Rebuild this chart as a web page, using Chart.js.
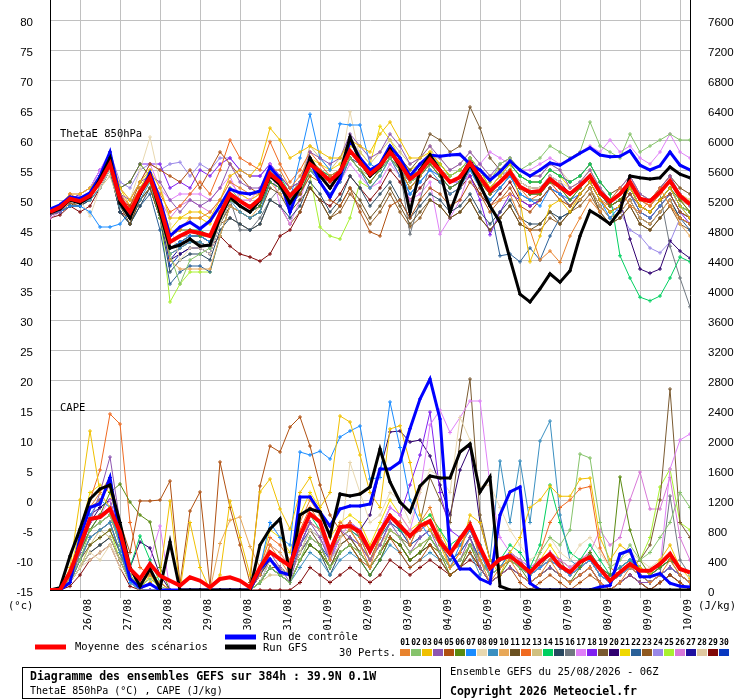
<!DOCTYPE html>
<html>
<head>
<meta charset="utf-8">
<script src="https://cdn.jsdelivr.net/npm/chart.js@4.4.1/dist/chart.umd.min.js"></script>
<style>
html, body { margin: 0; padding: 0; background: #fff; }
#wrap { width: 740px; height: 700px; }
</style>
</head>
<body>
<div id="wrap"><canvas id="chart" width="740" height="700"></canvas></div>
<script>
// 65 steps of 6h from 25/08 06Z, a day label sits on each 00Z step
const dayLabels = ['26/08', '27/08', '28/08', '29/08', '30/08', '31/08', '01/09', '02/09',
    '03/09', '04/09', '05/09', '06/09', '07/09', '08/09', '09/09', '10/09'];
const thetaTicks = [-15, -10, -5, 0, 5, 10, 15, 20, 25, 30, 35, 40, 45, 50, 55, 60, 65, 70, 75, 80];
const capeTicks = [0, 400, 800, 1200, 1600, 2000, 2400, 2800, 3200, 3600, 4000, 4400, 4800,
    5200, 5600, 6000, 6400, 6800, 7200, 7600];

const pertColors = ['#e8832e', '#86c36b', '#f0c000', '#8e56b0', '#b05010', '#5a8a10', '#1a8cff', '#e8d8b0',
    '#3a8fc0', '#e8a858', '#6a5020', '#f06a20', '#d0c080', '#00d060', '#284860', '#707880',
    '#e080f8', '#8020f0', '#7a5a30', '#300070', '#f0d800', '#2a6098', '#905a20', '#9a88e8',
    '#a8f030', '#d878d8', '#2010a0', '#e0c8a0', '#800808', '#0838c0'];

// ThetaE 850hPa (°C)
const thetaMean = [48.0, 48.8, 50.2, 49.8, 50.7, 53.0, 56.0, 50.2, 48.0, 51.3, 53.8, 49.0, 43.0,
    44.0, 44.8, 44.5, 44.0, 47.7, 51.0, 49.8, 48.8, 50.2, 54.4, 53.0, 50.7, 52.4,
    56.0, 54.7, 53.2, 54.7, 58.2, 56.3, 54.3, 55.7, 58.0, 56.0, 53.5, 54.7, 56.8,
    54.9, 53.0, 53.8, 56.2, 53.8, 51.5, 53.0, 54.7, 52.2, 51.3, 51.5, 53.5, 52.2,
    51.0, 52.4, 54.0, 51.3, 49.7, 51.0, 53.0, 50.2, 49.8, 51.3, 53.2, 50.7, 49.3];
const thetaCtrl = [48.5, 49.2, 50.5, 50.3, 51.2, 54.0, 58.0, 50.5, 47.5, 51.0, 54.5, 50.0, 44.0,
    45.5, 46.3, 45.2, 46.5, 49.0, 51.8, 51.2, 51.0, 51.5, 55.5, 53.5, 48.0, 52.5,
    56.5, 53.0, 50.5, 53.5, 60.0, 57.0, 55.0, 56.0, 59.0, 57.0, 54.0, 56.0, 57.5,
    57.3, 57.5, 57.6, 56.0, 55.0, 53.3, 54.7, 56.5, 55.0, 54.0, 55.0, 56.2, 55.8,
    56.8, 57.8, 58.7, 57.5, 57.2, 57.3, 58.2, 55.8, 55.0, 55.7, 58.0, 55.8, 55.0];
const thetaGfs = [47.8, 48.5, 50.0, 49.5, 50.5, 53.5, 57.0, 49.5, 47.0, 51.0, 54.0, 48.0, 42.0,
    42.5, 43.5, 42.3, 42.5, 47.0, 50.5, 49.0, 48.0, 50.0, 54.0, 52.5, 49.5, 52.0,
    57.0, 54.0, 52.0, 54.5, 60.5, 56.5, 54.0, 55.5, 58.5, 55.5, 48.0, 55.0, 57.5,
    55.0, 48.0, 52.5, 56.0, 52.5, 49.0, 46.3, 40.2, 34.3, 33.0, 35.2, 37.7, 36.3,
    38.2, 44.0, 48.2, 47.2, 46.0, 48.2, 54.0, 53.7, 53.5, 53.7, 55.5, 54.3, 53.7];

const thetaPerts = [
    [48, 49, 51, 50, 51, 54, 57, 51, 48, 52, 54, 50, 44, 45, 47, 47, 48, 50, 53, 52, 51, 51, 55, 55, 52, 54,
     57, 55, 53, 55, 58, 56, 54, 56, 58, 55, 52, 54, 57, 55, 53, 54, 56, 52, 49, 50, 51, 47, 45, 40, 41.5, 39.6,
     44, 47, 50, 48, 50, 52, 49, 48, 50, 52, 49, 47, 46],
    [48, 49, 50, 50, 51, 53, 57, 51, 48, 51, 53, 47, 41, 36, 40, 41, 42, 47, 52, 50, 49, 50, 55, 53, 50, 52,
     55, 54, 53, 54, 57, 55, 54, 55, 57, 55, 53, 54, 57, 55, 54, 55, 57, 55, 53, 56, 57, 55, 56, 57, 59, 58,
     57, 58, 63, 59, 58, 57, 61, 58, 59, 60, 61, 60, 60],
    [48, 49, 51, 51, 52, 54, 58, 52, 50, 53, 55, 52, 47, 47, 48, 48, 47, 50, 54, 55, 54, 56, 62, 60, 57, 58,
     59, 58, 57, 57, 60, 59, 58, 61, 63, 60, 57, 57, 58, 56, 54, 55, 57, 55, 52, 54, 56, 50, 39.7, 44, 49, 50,
     48, 51, 53, 50, 48, 49, 52, 49, 48, 50, 52, 49, 47],
    [47.5, 48, 50, 50, 51, 53, 57, 51, 50, 53, 54, 53, 50, 48, 50, 49, 50, 52, 56, 53, 52, 52, 55, 54, 52, 53,
     58, 57, 56, 57, 61, 59, 57, 58, 61, 59, 56, 57, 59, 57, 55, 56, 58, 56, 54, 56, 57, 55, 54, 54, 56, 55,
     52, 53, 55, 52, 50, 52, 54, 51, 50, 52, 54, 51, 49],
    [48, 49, 50, 50, 51, 53, 56, 50, 49, 53, 56, 55, 54, 53, 55, 52, 55, 58, 56, 54, 52, 51, 54, 53, 50, 51,
     54, 53, 50, 49, 52, 48, 44.7, 44, 49, 50, 47, 50, 52, 51, 49, 50, 53, 51, 48, 50, 52, 49, 48, 50, 52, 50,
     49, 51, 53, 50, 48, 49, 51, 49, 48, 50, 51, 48, 47],
    [48, 48.5, 50, 50, 51, 53, 57, 52, 53, 56, 54, 49, 44, 45, 45, 44, 44, 47, 50, 49, 48, 49, 53, 52, 50, 51,
     55, 54, 52, 54, 57, 55, 53, 55, 57, 55, 52, 54, 56, 54, 52, 53, 56, 53, 51, 53, 55, 52, 51, 51, 53, 52,
     50, 52, 54, 51, 49, 50, 52, 49, 48, 50, 52, 50, 48],
    [48, 48, 49, 49, 48, 45.5, 45.5, 46, 48, 51, 53, 48, 42, 43, 44, 44, 43, 47, 50, 49, 48, 49, 53, 52, 50, 57,
     64.3, 57, 55, 62.7, 62.5, 62.5, 56, 55, 57, 55, 51, 53, 55, 54, 52, 53, 55, 52, 50, 52, 54, 51, 50, 49, 52, 51,
     50, 51, 53, 50, 47, 49, 52, 49, 48, 50, 52, 49, 47],
    [48, 49, 51, 50, 47.3, 52, 55, 50, 50, 55, 60.5, 53, 46, 40, 42, 42, 41, 46, 50, 49, 48, 50, 54, 52, 50, 52,
     56, 55, 53, 55, 64.7, 57, 55, 56, 58, 56, 53, 54, 56, 55, 53, 54, 56, 54, 52, 54, 55, 53, 52, 52, 54, 53,
     52, 53, 55, 52, 50, 52, 54, 51, 50, 51, 53, 51, 50],
    [48, 48.5, 50, 49.5, 50, 52, 55, 49, 47, 50, 53, 48, 41, 42, 43, 43, 42, 46, 50, 48, 47, 48, 53, 52, 49, 51,
     55, 53, 51, 53, 57, 55, 52, 54, 57, 54, 51, 53, 55, 53, 51, 52, 55, 52, 50, 52, 54, 51, 50, 50, 52, 51,
     49, 51, 53, 50, 48, 49, 51, 48, 47, 49, 51, 48, 47],
    [48, 49, 50, 50, 51, 53, 56, 50, 48, 51, 53, 48, 40, 38.5, 38.5, 38.5, 38.5, 44, 49, 48, 47, 49, 53, 51, 49, 51,
     55, 54, 52, 54, 57, 55, 53, 55, 57, 55, 52, 54, 56, 54, 52, 53, 55, 52, 50, 52, 54, 51, 50, 50, 52, 50,
     49, 50, 52, 49, 47, 48, 50, 47, 46, 48, 50, 46, 44],
    [47.5, 48, 49, 50, 51, 54, 57, 49, 46, 50, 52, 47, 42, 43, 44, 44, 43, 46, 49, 48, 47, 48, 52, 51, 48, 50,
     52, 50, 47, 49, 52, 50, 47, 49, 52, 49, 46, 48, 50, 49, 47, 48, 50, 47, 45, 47, 49, 46, 45, 46, 48, 46,
     48, 50, 52, 48, 46, 47, 49, 46, 45, 47, 49, 47, 46],
    [48, 49, 50, 50, 51, 53, 57, 51, 49, 52, 54, 51, 48, 49, 51, 53, 51, 55, 60, 57, 56, 55, 59.7, 56, 53, 55,
     58, 56, 54, 55, 58, 56, 54, 56, 58, 56, 53, 55, 57, 55, 53, 54, 56, 53, 51, 53, 54, 52, 50, 51, 53, 51,
     49, 51, 53, 50, 49, 50, 52, 50, 49, 51, 53, 50, 48],
    [48, 49, 50, 50, 50, 52, 54, 49, 47, 50, 52, 47, 41, 42, 43, 43, 42, 46, 50, 49, 48, 50, 54, 53, 51, 53,
     59, 57, 55, 57, 60, 58, 56, 58, 60, 58, 56, 57, 59, 55, 53, 54, 56, 54, 52, 53, 55, 53, 52, 52, 53, 52,
     51, 52, 54, 51, 50, 51, 53, 50, 49, 51, 53, 50, 49],
    [48, 49, 50.5, 50, 51, 53, 56, 50, 48, 52, 54, 49, 43, 44, 45, 45, 44, 48, 51, 50, 49, 50, 55, 54, 51, 53,
     57, 55, 54, 55, 58, 56, 55, 56, 59, 57, 54, 55, 57, 56, 54, 55, 57, 55, 52, 54, 56, 54, 53, 53, 55, 54,
     53, 54, 56, 53, 51, 40.7, 37, 33.8, 33.2, 34, 37, 40.5, 39.7],
    [48, 48, 49, 49, 50, 52, 55, 48, 46, 49, 52, 47, 38, 40, 41, 41, 40, 45, 47, 46, 45, 46, 50, 49, 47, 49,
     53, 51, 48, 50, 54, 52, 49, 51, 53, 50, 47, 49, 51, 50, 48, 49, 51, 48, 46, 48, 50, 47, 46, 46, 48, 47,
     48, 50, 52, 49, 47, 48, 50, 47, 46, 48, 50, 47, 46],
    [48, 49, 50, 50, 51, 53, 56, 50, 48, 51, 53, 49, 43, 44, 44, 44, 43, 47, 50, 45, 45, 47, 50, 52, 50, 52,
     56, 54, 53, 54, 57, 56, 54, 55, 57, 55, 44.3, 50, 56, 54, 52, 53, 55, 53, 51, 52, 54, 52, 51, 51, 53, 52,
     51, 52, 54, 52, 50, 51, 53, 50, 49, 51, 42.3, 37, 32.2],
    [48, 49, 51, 51, 52, 55, 58, 52, 50, 53, 56, 52, 50, 51, 51, 51, 50, 52, 54, 50, 50, 52, 56, 49, 46, 50,
     55, 54, 52, 53, 56, 54, 52, 53, 56, 54, 50, 51, 53, 44.3, 47, 50, 55, 56, 58, 57, 56, 55, 55, 56, 57, 56,
     57, 58, 59, 58, 60, 58, 59, 57, 56, 58, 61, 58, 57],
    [48, 49, 50, 51, 52, 55, 57, 52, 53, 56, 56, 56, 52, 53, 52, 55, 54, 56, 57, 55, 54, 54, 56, 54, 52, 53,
     56, 55, 53, 55, 58, 56, 54, 56, 58, 56, 53, 55, 57, 55, 53, 53, 54, 50, 44.2, 48, 51, 50, 49, 50, 52, 51,
     49, 51, 53, 50, 48, 49, 51, 48, 47, 49, 51, 48, 46],
    [48, 49, 50, 50, 51, 53, 56, 49, 47, 51, 53, 48, 42, 43, 44, 44, 43, 47, 51, 50, 49, 50, 54, 53, 51, 53,
     57, 55, 54, 55, 58, 56, 54, 56, 58, 57, 55, 57, 61, 60, 58, 59, 65.5, 62, 57, 55, 56, 54, 53, 53, 55, 54,
     53, 54, 56, 53, 51, 52, 54, 51, 50, 52, 54, 52, 51],
    [48, 49, 50, 50, 51, 53, 57, 51, 48, 51, 54, 48, 40, 41, 42, 42, 41, 46, 50, 49, 48, 49, 54, 53, 50, 52,
     56, 54, 52, 54, 58, 56, 54, 55, 58, 55, 53, 54, 56, 55, 53, 54, 57, 54, 52, 54, 55, 53, 52, 52, 54, 53,
     51, 52, 54, 51, 49, 50, 43.5, 38.5, 37.8, 38.5, 43.2, 41.5, 40.3],
    [48, 49, 50, 51, 52, 54, 57, 52, 49, 52, 55, 50, 45, 47, 47, 47, 46, 49, 52, 51, 50, 51, 55, 54, 52, 53,
     57, 56, 55, 56, 59, 58, 56, 62.3, 60, 57, 55, 56, 58, 56, 54, 55, 57, 55, 53, 55, 56, 54, 53, 53, 55, 54,
     52, 53, 55, 52, 50, 51, 53, 50, 49, 51, 53, 51, 50],
    [48, 48, 49, 49, 50, 52, 55, 48, 46, 49, 51, 45, 36, 38, 39, 39, 38, 44, 49, 48, 47, 48, 53, 52, 49, 51,
     55, 53, 51, 53, 57, 55, 53, 55, 57, 55, 52, 54, 56, 54, 52, 53, 55, 53, 49, 40.7, 41, 39.7, 42, 40, 44, 47,
     48, 50, 52, 49, 47, 48, 50, 47, 46, 48, 50, 47, 45],
    [47.5, 48, 49.5, 49, 50, 52, 55, 48, 46, 50, 52, 47, 41, 42, 43, 43, 42, 46, 47, 46, 45, 46, 50, 49, 46, 48,
     52, 50, 47, 48, 51, 49, 46, 48, 51, 48, 45.5, 47, 50, 49, 47, 48, 50, 47, 45, 47, 49, 46, 45, 45, 47, 46,
     48, 49, 51, 48, 46, 47, 49, 46, 45, 47, 49, 46, 45],
    [48, 49, 50, 51, 52, 55, 58, 53, 52, 55, 56, 55, 56, 56.3, 54, 56, 55, 57, 57, 55, 54, 54, 56, 54, 52, 53,
     56, 55, 53, 55, 58, 56, 54, 56, 58, 55, 53, 55, 57, 55, 53, 54, 56, 54, 52, 54, 55, 53, 52, 52, 54, 52,
     51, 52, 54, 51, 49, 48, 45, 44, 42, 41.2, 43, 47, 46],
    [48, 49, 50, 50, 51, 53, 56, 50, 48, 51, 53, 48, 33, 36, 38, 38, 38, 44, 49, 48, 47, 48, 53, 52, 49, 51,
     54, 45.5, 44, 43.5, 47, 53, 52, 54, 57, 55, 52, 54, 56, 54, 52, 53, 55, 53, 51, 53, 55, 52, 51, 51, 53, 52,
     50, 52, 54, 51, 49, 50, 52, 49, 48, 50, 52, 49, 48],
    [47, 48, 50, 50, 51, 54, 57, 51, 49, 52, 54, 50, 47, 49, 50, 49, 48, 50, 53, 51, 50, 51, 55, 53, 50, 52,
     56, 54, 52, 53, 57, 55, 52, 54, 57, 54, 51, 53, 55, 54, 52, 53, 55, 53, 51, 53, 54, 52, 51, 51, 53, 51,
     50, 51, 53, 50, 48, 49, 52, 49, 48, 50, 52, 50, 49],
    [48, 49, 50, 50, 51, 53, 57, 50, 47, 51, 53, 47, 40, 42, 43, 43, 42, 46, 50, 49, 48, 49, 54, 53, 50, 52,
     56, 54, 52, 54, 58, 56, 54, 56, 58, 56, 53, 55, 57, 55, 53, 54, 56, 53, 51, 53, 55, 52, 51, 51, 53, 52,
     51, 52, 54, 51, 49, 50, 52, 49, 48, 50, 52, 49, 48],
    [48, 49, 50, 50, 51, 53, 55, 50, 48, 51, 53, 48, 42, 43, 44, 44, 43, 47, 51, 50, 49, 50, 54, 53, 51, 53,
     56, 55, 53, 55, 58, 56, 54, 55, 58, 56, 53, 55, 57, 57, 55, 56, 58, 56, 54, 55, 57, 55, 54, 54, 56, 55,
     53, 54, 56, 53, 51, 52, 54, 51, 50, 52, 54, 52, 51],
    [47, 47.5, 49, 48, 49, 52, 55, 48, 47, 50, 52, 47, 42, 43, 43, 43, 42, 44, 42.3, 41, 40.5, 39.8, 41, 44, 45, 48,
     52, 50, 49, 51, 54, 52, 50, 52, 55, 53, 50, 52, 54, 53, 51, 52, 54, 51, 49, 51, 53, 50, 49, 50, 52, 51,
     49, 51, 53, 50, 48, 49, 51, 48, 47, 49, 51, 48, 47],
    [48, 49, 50, 50, 51, 53, 56, 50, 47, 51, 53, 48, 39, 41, 42, 42, 41, 46, 50, 49, 48, 49, 54, 53, 50, 52,
     56, 54, 53, 54, 57, 56, 54, 55, 57, 55, 53, 54, 56, 55, 53, 54, 56, 54, 51, 53, 55, 52, 51, 51, 53, 52,
     50, 52, 54, 51, 49, 50, 52, 49, 48, 50, 52, 49, 48]
];

// CAPE (J/kg)
const capeMean = [0, 0, 236, 590, 947, 973, 1080, 773, 280, 147, 347, 191, 124,
    58, 169, 124, 36, 147, 169, 124, 36, 300, 507, 413, 320, 720,
    1013, 907, 520, 840, 853, 773, 520, 773, 987, 853, 720, 853, 920,
    640, 480, 680, 867, 567, 290, 413, 453, 347, 236, 373, 480, 320,
    236, 373, 440, 280, 124, 236, 347, 258, 258, 347, 480, 280, 236];
const capeCtrl = [0, 0, 100, 700, 1100, 1150, 1500, 700, 150, 30, 80, 0, 0,
    0, 0, 0, 0, 0, 0, 0, 0, 280, 413, 240, 200, 1240,
    1240, 1040, 853, 1080, 1120, 1120, 1147, 1613, 1613, 1707, 2150, 2547, 2813,
    2280, 507, 280, 280, 150, 90, 1000, 1307, 1373, 90, 0, 0, 0,
    0, 0, 0, 40, 60, 480, 530, 178, 178, 220, 90, 50, 40];
const capeGfs = [0, 30, 453, 813, 1213, 1347, 1400, 900, 300, 50, 280, 20, 640,
    0, 0, 0, 0, 0, 0, 0, 0, 600, 813, 947, 200, 1000,
    1080, 1040, 720, 1280, 1253, 1280, 1373, 1880, 1440, 1173, 1040, 1387, 1520,
    1493, 1493, 1840, 1947, 1307, 1507, 50, 0, 0, 0, 0, 0, 0,
    0, 0, 0, 0, 0, 0, 0, 0, 0, 0, 0, 0, 0];

const capePerts = [
    [0, 0, 200, 700, 1100, 1300, 1500, 900, 300, 100, 200, 100, 0, 0, 0, 0, 0, 0, 0, 0, 0, 200, 600, 400, 200, 900,
     1200, 1000, 400, 900, 800, 600, 300, 700, 1000, 900, 600, 900, 1100, 700, 300, 500, 900, 400, 100, 300, 400, 200, 100, 200, 400, 200,
     100, 200, 300, 100, 0, 100, 300, 200, 100, 200, 400, 200, 100],
    [0, 0, 150, 400, 800, 900, 1000, 600, 200, 50, 150, 50, 0, 0, 0, 0, 0, 0, 0, 0, 0, 100, 300, 200, 100, 400,
     700, 600, 300, 500, 600, 500, 300, 500, 800, 700, 500, 600, 700, 500, 300, 400, 600, 400, 200, 300, 400, 300, 200, 500, 700, 600,
     800, 1813, 1760, 900, 300, 400, 600, 400, 500, 700, 900, 1300, 1100],
    [0, 0, 300, 1200, 2120, 1300, 1100, 700, 200, 0, 100, 200, 1187, 0, 900, 300, 0, 200, 1187, 700, 200, 1307, 1480, 1080, 813, 1300,
     1500, 1100, 1300, 2320, 2240, 1800, 1300, 1100, 2147, 2190, 1700, 1000, 800, 600, 300, 500, 1000, 900, 400, 200, 500, 700, 1100, 1200, 1387, 1250,
     1250, 1480, 1493, 700, 400, 600, 500, 300, 200, 400, 600, 300, 150],
    [0, 0, 100, 500, 900, 1300, 1773, 900, 300, 0, 0, 0, 0, 0, 0, 0, 0, 0, 0, 0, 0, 200, 500, 300, 100, 600,
     900, 700, 400, 800, 700, 600, 400, 600, 900, 700, 500, 700, 800, 500, 300, 400, 700, 300, 100, 200, 300, 200, 100, 200, 300, 200,
     100, 200, 300, 100, 0, 100, 200, 100, 100, 200, 300, 200, 100],
    [0, 0, 200, 700, 1100, 1200, 1400, 900, 500, 1187, 1187, 1200, 1453, 80, 1053, 1307, 40, 1707, 1100, 600, 100, 1387, 1920, 1840, 2173, 2307,
     1920, 1400, 1000, 800, 600, 400, 300, 500, 700, 500, 300, 400, 600, 400, 200, 300, 500, 300, 100, 200, 300, 100, 0, 100, 200, 100,
     0, 100, 200, 100, 0, 100, 200, 100, 0, 100, 200, 100, 0],
    [0, 0, 100, 500, 800, 1000, 1300, 1413, 1173, 1000, 907, 300, 0, 0, 0, 0, 0, 0, 0, 0, 0, 100, 300, 200, 100, 400,
     600, 500, 300, 500, 600, 400, 200, 400, 700, 600, 400, 500, 700, 500, 200, 300, 600, 300, 100, 200, 400, 300, 100, 200, 300, 200,
     100, 300, 500, 300, 200, 1507, 800, 400, 200, 300, 400, 200, 100],
    [0, 0, 200, 600, 1000, 1200, 1100, 600, 100, 0, 0, 0, 0, 0, 0, 0, 0, 0, 0, 0, 0, 300, 900, 700, 600, 1840,
     1800, 1850, 1747, 2040, 2120, 2187, 1480, 1500, 2507, 1900, 1200, 900, 700, 500, 300, 600, 800, 500, 200, 300, 500, 300, 200, 300, 400, 300,
     200, 300, 400, 200, 100, 200, 300, 200, 100, 200, 300, 200, 100],
    [0, 0, 100, 300, 500, 400, 600, 300, 100, 0, 0, 0, 0, 0, 0, 0, 0, 0, 0, 0, 0, 100, 400, 300, 200, 500,
     800, 700, 400, 600, 1700, 1300, 900, 1000, 1300, 1200, 900, 1300, 1600, 1500, 1300, 2300, 2000, 1380, 1400, 1100, 800, 600, 400, 500, 700, 500,
     400, 600, 700, 500, 300, 400, 500, 400, 300, 400, 500, 300, 200],
    [0, 0, 100, 400, 700, 800, 900, 500, 100, 0, 0, 0, 0, 0, 0, 0, 0, 0, 0, 0, 0, 100, 300, 200, 100, 300,
     500, 400, 200, 400, 500, 400, 200, 400, 600, 500, 300, 400, 500, 400, 200, 300, 500, 200, 400, 1720, 900, 1720, 900, 1987, 2253, 1000,
     400, 300, 500, 300, 200, 300, 400, 200, 100, 200, 300, 200, 100],
    [0, 0, 150, 500, 800, 900, 1000, 600, 200, 0, 100, 0, 0, 0, 0, 0, 0, 620, 930, 973, 580, 300, 600, 500, 300, 700,
     900, 800, 500, 700, 800, 600, 400, 600, 800, 700, 500, 600, 700, 500, 300, 400, 600, 400, 200, 300, 400, 300, 200, 300, 400, 300,
     200, 300, 400, 200, 100, 200, 300, 200, 100, 200, 300, 200, 100],
    [0, 0, 100, 400, 600, 700, 800, 500, 100, 0, 0, 0, 0, 0, 0, 0, 0, 0, 0, 0, 0, 200, 400, 300, 200, 500,
     800, 600, 300, 600, 700, 500, 300, 500, 700, 600, 400, 500, 600, 400, 200, 300, 500, 300, 100, 200, 300, 200, 100, 200, 300, 200,
     100, 200, 300, 100, 0, 100, 200, 100, 100, 200, 300, 200, 100],
    [0, 0, 200, 700, 1200, 1600, 2347, 2213, 900, 300, 200, 100, 0, 0, 0, 0, 0, 0, 0, 0, 0, 300, 700, 600, 400, 800,
     1100, 900, 500, 800, 900, 700, 400, 700, 1000, 900, 700, 800, 900, 700, 500, 600, 800, 500, 200, 300, 400, 300, 200, 500, 900, 1100,
     1200, 1350, 1380, 560, 300, 200, 300, 200, 100, 200, 300, 200, 100],
    [0, 0, 100, 300, 600, 800, 700, 400, 100, 0, 0, 0, 0, 0, 0, 0, 0, 0, 0, 0, 0, 100, 200, 200, 100, 400,
     700, 600, 300, 600, 700, 500, 300, 500, 800, 700, 500, 600, 700, 500, 300, 400, 600, 400, 200, 300, 400, 300, 200, 300, 400, 300,
     200, 300, 400, 200, 100, 200, 300, 200, 100, 200, 300, 200, 100],
    [0, 0, 150, 500, 800, 900, 1000, 700, 300, 720, 400, 100, 0, 0, 0, 0, 0, 0, 0, 0, 0, 200, 500, 400, 300, 700,
     1000, 800, 500, 700, 800, 700, 400, 700, 1000, 800, 700, 900, 1000, 800, 600, 700, 900, 600, 300, 400, 600, 500, 300, 600, 1400, 900,
     500, 400, 600, 400, 200, 300, 400, 300, 200, 300, 400, 300, 200],
    [0, 0, 100, 300, 500, 600, 700, 400, 100, 0, 0, 0, 0, 0, 0, 0, 0, 0, 0, 0, 0, 100, 300, 200, 100, 400,
     600, 500, 200, 500, 600, 400, 200, 400, 700, 600, 400, 500, 600, 400, 200, 300, 500, 300, 100, 200, 300, 200, 100, 200, 300, 200,
     100, 200, 300, 100, 0, 100, 200, 100, 0, 100, 200, 100, 0],
    [0, 0, 100, 400, 700, 800, 900, 500, 200, 0, 0, 0, 0, 0, 0, 0, 0, 0, 0, 0, 0, 100, 300, 200, 200, 500,
     700, 600, 300, 600, 700, 500, 300, 500, 800, 700, 500, 600, 700, 500, 300, 400, 600, 400, 200, 300, 400, 300, 200, 300, 400, 300,
     200, 300, 400, 200, 100, 200, 300, 200, 100, 200, 1253, 400, 200],
    [0, 0, 200, 600, 900, 1000, 1200, 700, 300, 100, 400, 853, 0, 0, 0, 0, 0, 0, 0, 0, 0, 200, 600, 500, 300, 700,
     900, 800, 400, 700, 900, 800, 500, 800, 1100, 1000, 800, 1300, 2200, 2400, 2100, 2300, 2520, 2520, 1400, 700, 500, 400, 300, 400, 500, 400,
     300, 400, 500, 300, 200, 300, 400, 300, 200, 300, 1613, 2000, 2080],
    [0, 0, 200, 500, 800, 900, 1000, 600, 200, 0, 0, 0, 0, 0, 0, 0, 0, 0, 0, 0, 0, 200, 500, 400, 300, 600,
     900, 800, 400, 700, 800, 700, 500, 800, 1100, 1000, 1400, 1800, 2373, 1300, 800, 700, 900, 600, 300, 400, 500, 300, 200, 300, 400, 300,
     200, 300, 400, 200, 100, 200, 300, 200, 100, 200, 300, 200, 100],
    [0, 0, 100, 400, 700, 800, 900, 500, 200, 0, 0, 0, 0, 0, 0, 0, 0, 0, 0, 0, 0, 100, 300, 300, 200, 500,
     700, 600, 300, 600, 700, 500, 300, 500, 800, 700, 600, 900, 1500, 1200, 900, 2000, 2813, 1000, 400, 300, 500, 400, 200, 300, 500, 400,
     200, 300, 400, 200, 100, 200, 300, 400, 600, 1200, 2680, 900, 700],
    [0, 0, 200, 600, 900, 1100, 1200, 700, 300, 640, 560, 200, 0, 0, 0, 0, 0, 0, 0, 0, 0, 200, 500, 400, 300, 700,
     900, 800, 500, 800, 900, 800, 1000, 1600, 2107, 2120, 1973, 2000, 1787, 1400, 1000, 1600, 1900, 900, 400, 300, 400, 300, 200, 300, 400, 300,
     200, 300, 400, 300, 200, 300, 400, 300, 200, 300, 400, 300, 200],
    [0, 0, 250, 800, 1300, 1400, 1300, 800, 300, 0, 200, 0, 0, 0, 0, 0, 0, 0, 0, 0, 0, 300, 800, 700, 500, 1000,
     1300, 1100, 700, 900, 1000, 900, 600, 900, 1200, 1000, 800, 900, 1000, 800, 500, 600, 800, 500, 200, 300, 500, 400, 200, 400, 600, 400,
     300, 400, 500, 300, 200, 300, 400, 300, 200, 300, 400, 300, 200],
    [0, 0, 100, 500, 800, 1000, 1100, 600, 100, 0, 0, 0, 0, 0, 0, 0, 0, 0, 0, 0, 0, 100, 400, 300, 200, 600,
     800, 700, 400, 700, 800, 600, 400, 700, 900, 800, 600, 700, 800, 600, 400, 500, 700, 400, 200, 300, 400, 300, 200, 300, 400, 300,
     200, 300, 400, 200, 100, 200, 300, 200, 100, 200, 300, 200, 100],
    [0, 0, 100, 300, 500, 600, 700, 400, 100, 0, 0, 0, 0, 0, 0, 0, 0, 0, 0, 0, 0, 100, 300, 200, 100, 400,
     600, 500, 300, 500, 600, 500, 300, 500, 700, 600, 400, 500, 600, 500, 300, 400, 600, 400, 200, 300, 400, 300, 200, 300, 400, 300,
     200, 300, 400, 200, 100, 200, 300, 200, 100, 200, 300, 200, 100],
    [0, 0, 150, 400, 700, 800, 900, 500, 200, 0, 0, 0, 0, 0, 0, 0, 0, 0, 0, 0, 0, 100, 400, 300, 200, 500,
     700, 600, 300, 600, 700, 600, 400, 600, 900, 800, 600, 700, 800, 600, 400, 500, 700, 400, 200, 300, 400, 300, 200, 300, 400, 300,
     200, 300, 400, 200, 100, 200, 300, 200, 100, 200, 300, 200, 100],
    [0, 0, 100, 300, 600, 700, 800, 400, 100, 0, 0, 0, 0, 0, 0, 0, 0, 0, 0, 0, 0, 100, 300, 200, 100, 400,
     600, 500, 300, 500, 600, 500, 300, 500, 700, 600, 400, 500, 600, 500, 300, 400, 600, 400, 200, 300, 400, 300, 200, 300, 400, 300,
     200, 300, 400, 200, 100, 200, 300, 400, 700, 1373, 1613, 900, 800],
    [0, 0, 150, 500, 800, 900, 1000, 600, 200, 0, 0, 0, 0, 0, 0, 0, 0, 0, 0, 0, 0, 200, 500, 400, 300, 600,
     800, 700, 400, 700, 800, 700, 500, 700, 1000, 900, 700, 800, 900, 700, 500, 600, 800, 500, 300, 400, 500, 400, 300, 400, 500, 400,
     300, 400, 500, 800, 600, 700, 1200, 1573, 1080, 1080, 1500, 700, 400],
    [0, 0, 200, 600, 1000, 1100, 1200, 700, 200, 0, 0, 0, 0, 0, 0, 0, 0, 0, 0, 0, 0, 200, 500, 400, 300, 600,
     900, 800, 500, 800, 900, 700, 500, 800, 1000, 900, 700, 800, 900, 700, 500, 600, 800, 500, 300, 400, 500, 400, 300, 400, 500, 400,
     300, 400, 500, 300, 200, 300, 400, 300, 200, 300, 400, 300, 200],
    [0, 0, 100, 300, 400, 500, 600, 400, 100, 0, 0, 0, 0, 0, 0, 0, 0, 0, 0, 0, 0, 100, 300, 200, 100, 400,
     600, 500, 300, 500, 600, 500, 300, 500, 700, 600, 400, 500, 600, 500, 300, 400, 600, 400, 200, 300, 400, 300, 200, 300, 400, 300,
     200, 300, 400, 200, 100, 200, 300, 200, 100, 200, 300, 200, 100],
    [0, 0, 50, 200, 400, 500, 600, 300, 50, 0, 0, 0, 0, 0, 0, 0, 0, 0, 0, 0, 0, 0, 0, 0, 0, 100,
     300, 200, 100, 200, 300, 200, 100, 200, 400, 300, 200, 300, 400, 300, 200, 300, 400, 300, 100, 200, 300, 200, 100, 200, 300, 200,
     100, 200, 300, 100, 0, 100, 200, 100, 0, 100, 200, 100, 0],
    [0, 0, 150, 500, 900, 1000, 1100, 600, 200, 0, 0, 0, 0, 0, 0, 0, 0, 0, 0, 0, 0, 200, 400, 300, 200, 500,
     700, 600, 400, 600, 700, 600, 400, 600, 900, 800, 600, 700, 800, 600, 400, 500, 700, 400, 200, 300, 400, 300, 200, 300, 400, 300,
     200, 300, 400, 200, 100, 200, 300, 200, 100, 200, 300, 200, 100]
];

const MONO = '"DejaVu Sans Mono", monospace';
const SANS = '"Liberation Sans", Arial, sans-serif';

const toPoints = arr => arr.map((v, i) => ({ x: i, y: v }));

function pertSet(values, k, axis) {
    return {
        data: toPoints(values),
        yAxisID: axis,
        borderColor: pertColors[k],
        backgroundColor: pertColors[k],
        borderWidth: 1,
        pointStyle: 'cross',
        pointRadius: 2,
        pointBorderWidth: 1,
        order: 10 + k
    };
}

function mainSet(values, color, width, axis, order, marks) {
    return {
        data: toPoints(values),
        yAxisID: axis,
        borderColor: color,
        backgroundColor: color,
        borderWidth: width,
        pointStyle: 'cross',
        pointRadius: marks ? 2 : 0,
        pointBorderWidth: 1,
        order: order
    };
}

const datasets = [
    mainSet(thetaMean, '#ff0000', 4, 'y', 0, false),
    mainSet(capeMean, '#ff0000', 4, 'yc', 0, false),
    mainSet(thetaGfs, '#000000', 3, 'y', 1, true),
    mainSet(capeGfs, '#000000', 3, 'yc', 1, true),
    mainSet(thetaCtrl, '#0000ff', 3, 'y', 2, true),
    mainSet(capeCtrl, '#0000ff', 3, 'yc', 2, true)
];
thetaPerts.forEach((p, k) => datasets.push(pertSet(p, k, 'y')));
capePerts.forEach((p, k) => datasets.push(pertSet(p, k, 'yc')));

// keep the plot flush with the top of the canvas
const fitSide = s => {
    s.width = 50;
    s.paddingTop = 0;
    s.paddingBottom = 0;
};

// Texts, day labels and legend under the plot
const decor = {
    id: 'decor',
    afterDraw(chart) {
        const ctx = chart.ctx;
        const xs = chart.scales.x;
        ctx.save();
        ctx.fillStyle = '#000';

        ctx.font = `10.5px ${MONO}`;
        ctx.textAlign = 'right';
        ctx.textBaseline = 'middle';
        dayLabels.forEach((d, k) => {
            const px = xs.getPixelForValue(3 + 4 * k);
            ctx.save();
            ctx.translate(px + 8, 599);
            ctx.rotate(-Math.PI / 2);
            ctx.fillText(d, 0, 0);
            ctx.restore();
        });

        ctx.textAlign = 'left';
        ctx.fillText('ThetaE 850hPa', 60, 134);
        ctx.fillText('CAPE', 60, 408);
        ctx.fillText('(°c)', 8, 606);
        ctx.textAlign = 'right';
        ctx.fillText('(J/kg)', 736, 606);

        // legend lines
        ctx.lineWidth = 5;
        [['#ff0000', 35, 647], ['#0000ff', 225, 637], ['#000000', 225, 647]].forEach(([c, x, y]) => {
            ctx.strokeStyle = c;
            ctx.beginPath();
            ctx.moveTo(x, y);
            ctx.lineTo(x + 31, y);
            ctx.stroke();
        });
        ctx.textAlign = 'left';
        ctx.fillText('Moyenne des scénarios', 75, 647);
        ctx.fillText('Run de contrôle', 263, 637);
        ctx.fillText('Run GFS', 263, 648);
        ctx.textAlign = 'right';
        ctx.fillText('30 Perts.', 396, 653);

        // member swatches
        ctx.textAlign = 'center';
        ctx.font = `bold 8px ${MONO}`;
        pertColors.forEach((c, k) => {
            const x = 400 + 11 * k;
            ctx.fillStyle = '#000';
            ctx.fillText(String(k + 1).padStart(2, '0'), x + 5, 643);
            ctx.fillStyle = c;
            ctx.fillRect(x, 649, 10, 7);
        });

        // title box
        ctx.strokeStyle = '#000';
        ctx.lineWidth = 1;
        ctx.strokeRect(22.5, 667.5, 418, 31);
        ctx.fillStyle = '#000';
        ctx.textAlign = 'left';
        ctx.font = `bold 11.5px ${MONO}`;
        ctx.fillText('Diagramme des ensembles GEFS sur 384h : 39.9N 0.1W', 30, 677);
        ctx.font = `10px ${MONO}`;
        ctx.fillText('ThetaE 850hPa (°C) , CAPE (J/kg)', 30, 691);
        ctx.font = `10.5px ${MONO}`;
        ctx.fillText('Ensemble GEFS du 25/08/2026 - 06Z', 450, 672);
        ctx.font = `bold 11.5px ${MONO}`;
        ctx.fillText('Copyright 2026 Meteociel.fr', 450, 692);
        ctx.restore();
    }
};

new Chart(document.getElementById('chart'), {
    type: 'line',
    data: { datasets },
    options: {
        responsive: false,
        devicePixelRatio: 1,
        animation: false,
        layout: { padding: 0, autoPadding: false },
        elements: { line: { tension: 0 } },
        plugins: { legend: { display: false }, tooltip: { enabled: false } },
        scales: {
            x: {
                type: 'linear',
                min: 0,
                max: 64,
                afterBuildTicks: s => { s.ticks = dayLabels.map((d, k) => ({ value: 3 + 4 * k })); },
                afterFit: s => {
                    s.height = 110;
                    s.paddingLeft = 0;
                    s.paddingRight = 0;
                },
                grid: { color: '#c0c0c0', drawTicks: true, tickLength: 8, tickColor: '#c0c0c0' },
                border: { display: true, color: '#000' },
                ticks: { display: false }
            },
            y: {
                position: 'left',
                min: -15,
                max: 83.334,
                afterBuildTicks: s => { s.ticks = thetaTicks.map(v => ({ value: v })); },
                afterFit: fitSide,
                grid: { color: '#c0c0c0', drawTicks: false },
                border: { display: true, color: '#000' },
                ticks: {
                    crossAlign: 'near', padding: 17, labelOffset: 3, color: '#000',
                    font: { family: SANS, size: 11.5 }, callback: v => String(v)
                }
            },
            yc: {
                position: 'right',
                min: 0,
                max: 7866.67,
                afterBuildTicks: s => { s.ticks = capeTicks.map(v => ({ value: v })); },
                afterFit: fitSide,
                grid: { display: false, drawTicks: false },
                border: { display: true, color: '#000' },
                ticks: {
                    crossAlign: 'near', padding: 18, labelOffset: 3, color: '#000',
                    font: { family: SANS, size: 11.5 }, callback: v => String(v)
                }
            }
        }
    },
    plugins: [decor]
});
</script>
</body>
</html>
